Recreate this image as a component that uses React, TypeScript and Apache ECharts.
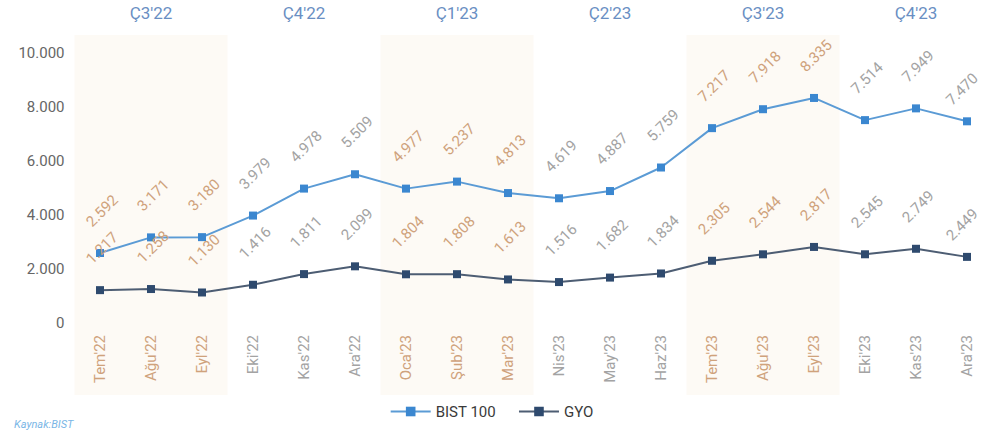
import React, { useEffect, useRef } from "react";
import * as echarts from "echarts";

const months = ["Tem'22", "Ağu'22", "Eyl'22", "Eki'22", "Kas'22", "Ara'22", "Oca'23", "Şub'23", "Mar'23", "Nis'23", "May'23", "Haz'23", "Tem'23", "Ağu'23", "Eyl'23", "Eki'23", "Kas'23", "Ara'23"];
const quarters = ["Ç3'22", "Ç4'22", "Ç1'23", "Ç2'23", "Ç3'23", "Ç4'23"];
const bist100 = [2592, 3171, 3180, 3979, 4978, 5509, 4977, 5237, 4813, 4619, 4887, 5759, 7217, 7918, 8335, 7514, 7949, 7470];
const gyo = [1217, 1258, 1130, 1416, 1811, 2099, 1804, 1808, 1613, 1516, 1682, 1834, 2305, 2544, 2817, 2545, 2749, 2449];
const yTicks = [0, 2000, 4000, 6000, 8000, 10000];

const ORANGE = "#cfa27c";
const GRAY = "#a3a3a3";
const FONT = "Roboto, 'Liberation Sans', Arial, sans-serif";

const fmt = (v: number) => v.toLocaleString("de-DE");
const colorFor = (i: number) => (Math.floor(i / 3) % 2 === 0 ? ORANGE : GRAY);

export default function App() {
  const ref = useRef<HTMLDivElement>(null);
  useEffect(() => {
    if (!ref.current) return;
    const chart = echarts.init(ref.current, null, { renderer: "svg" });
    const mkData = (arr: number[]) =>
      arr.map((v, i) => ({
        value: v,
        label:
          i === arr.length - 1
            ? { color: colorFor(i), offset: [-9, 2] }
            : { color: colorFor(i) },
      }));
    const labelCfg = {
      show: true,
      position: "top",
      distance: 36,
      rotate: 45,
      align: "center",
      verticalAlign: "middle",
      offset: [3, 0],
      fontSize: 15,
      fontFamily: FONT,
      formatter: (p: any) => fmt(p.value),
    };
    chart.setOption({
      animation: false,
      backgroundColor: "#ffffff",
      textStyle: { fontFamily: FONT },
      grid: [
        { left: 74.5, width: 918, top: 53, height: 270, outerBoundsMode: "none", containLabel: false },
        { left: 74.5, width: 918, top: 35, height: 360, outerBoundsMode: "none", containLabel: false },
      ],
      xAxis: [
        {
          type: "category",
          gridIndex: 0,
          data: months,
          boundaryGap: true,
          axisLine: { show: false },
          axisTick: { show: false },
          axisLabel: {
            rotate: 90,
            margin: 12,
            fontSize: 15,
            fontFamily: FONT,
            color: (_v: any, i: number) => colorFor(i),
          },
        },
        {
          type: "category",
          gridIndex: 1,
          position: "top",
          data: quarters,
          boundaryGap: true,
          axisLine: { show: false },
          axisTick: { show: false },
          splitArea: {
            show: true,
            areaStyle: { color: ["#fdfaf5", "rgba(255,255,255,0)"] },
          },
          axisLabel: {
            margin: 14,
            fontSize: 17,
            fontFamily: FONT,
            color: "#6a8fc3",
          },
        },
      ],
      yAxis: [
        {
          type: "value",
          gridIndex: 0,
          min: yTicks[0],
          max: yTicks[yTicks.length - 1],
          interval: 2000,
          splitLine: { show: false },
          axisLine: { show: false },
          axisTick: { show: false },
          axisLabel: {
            margin: 10,
            fontSize: 15,
            fontFamily: FONT,
            color: "#666",
            formatter: (v: number) => fmt(v),
          },
        },
        { type: "value", gridIndex: 1, show: false, min: 0, max: 1 },
      ],
      legend: {
        bottom: 6,
        left: "center",
        itemWidth: 40,
        itemHeight: 12,
        itemGap: 22,
        textStyle: { fontSize: 15, color: "#3a3a3a", fontFamily: FONT },
        data: ["BIST 100", "GYO"],
      },
      graphic: [
        {
          type: "text",
          left: 14,
          top: 419,
          style: {
            text: "Kaynak:BIST",
            fill: "#7ab6e6",
            font: `italic 11px ${FONT}`,
          },
        },
      ],
      series: [
        {
          name: "BIST 100",
          type: "line",
          xAxisIndex: 0,
          yAxisIndex: 0,
          data: mkData(bist100),
          symbol: "rect",
          symbolSize: 8,
          lineStyle: { color: "#5b9bd5", width: 2 },
          itemStyle: { color: "#3b87d0" },
          label: labelCfg,
          z: 3,
        },
        {
          name: "GYO",
          type: "line",
          xAxisIndex: 0,
          yAxisIndex: 0,
          data: mkData(gyo),
          symbol: "rect",
          symbolSize: 8,
          lineStyle: { color: "#4d5d73", width: 2 },
          itemStyle: { color: "#2e4a6e" },
          label: labelCfg,
          z: 3,
        },
      ],
    });
    return () => chart.dispose();
  }, []);
  return (
    <div
      ref={ref}
      style={{ position: "fixed", left: 0, top: 0, width: 983, height: 430 }}
    />
  );
}
